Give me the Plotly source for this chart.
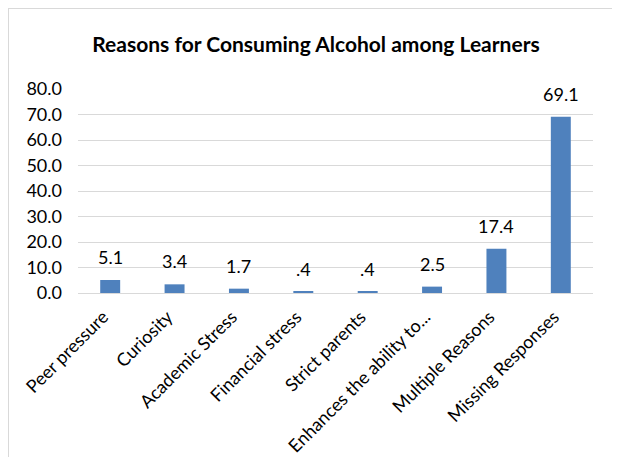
import plotly.graph_objects as go

categories = ["Peer pressure", "Curiosity", "Academic Stress", "Financial stress",
              "Strict parents", "Enhances the ability to...", "Multiple Reasons",
              "Missing Responses"]
values = [5.1, 3.4, 1.7, 0.4, 0.4, 2.5, 17.4, 69.1]
value_labels = ["5.1", "3.4", "1.7", ".4", ".4", "2.5", "17.4", "69.1"]
y_ticks = [0, 10, 20, 30, 40, 50, 60, 70, 80]
y_tick_labels = ["0.0", "10.0", "20.0", "30.0", "40.0", "50.0", "60.0", "70.0", "80.0"]
title = "Reasons for Consuming Alcohol among Learners"

FONT = "Lato"
OFF = 8  # page body margin
W, H = 620 - OFF, 457 - OFF
L, T = 78 - OFF, 89 - OFF
R = W - (593 - OFF)
B = H - (293 - OFF)
pw, ph = W - L - R, H - T - B

fig = go.Figure(go.Bar(
    x=categories, y=values, marker=dict(color="#4f81bd", line=dict(width=0)),
    width=0.31, hoverinfo="x+y"))

annotations = [dict(x=c, y=v, text=t, showarrow=False, yanchor="bottom",
                    yshift=10, font=dict(family=FONT, size=18, color="#000000"))
               for c, v, t in zip(categories, values, value_labels)]

def px_x(x):
    return (x - OFF - L) / pw

def px_y(y):
    return (H - B - (y - OFF)) / ph

fig.update_layout(
    width=W, height=H,
    margin=dict(l=L, r=R, t=T, b=B, autoexpand=False),
    paper_bgcolor="white", plot_bgcolor="white",
    showlegend=False,
    title=dict(text="<b>" + title + "</b>", x=(316 - OFF) / W, xref="container",
               xanchor="center", y=1 - (45 - OFF) / H, yref="container", yanchor="middle",
               font=dict(family=FONT, size=21, color="#000000")),
    xaxis=dict(tickangle=-45, tickfont=dict(family=FONT, size=18, color="#000000"),
               showgrid=False, showline=False, ticks="", zeroline=False,
               ticklabelstandoff=9, ticklabelshift=-7),
    yaxis=dict(range=[0, 80], tickvals=y_ticks, ticktext=y_tick_labels,
               tickfont=dict(family=FONT, size=18, color="#000000"),
               showgrid=True, gridcolor="#d9d9d9", gridwidth=1,
               zeroline=True, zerolinecolor="#d9d9d9", zerolinewidth=1,
               showline=False, ticks="", ticklen=0, ticklabelstandoff=15,
               automargin=False),
    annotations=annotations,
    shapes=[
        dict(type="line", xref="paper", yref="paper", x0=px_x(OFF), x1=px_x(OFF),
             y0=px_y(OFF), y1=px_y(457), line=dict(color="#d9d9d9", width=2)),
        dict(type="line", xref="paper", yref="paper", x0=px_x(OFF), x1=px_x(620),
             y0=px_y(OFF), y1=px_y(OFF), line=dict(color="#d9d9d9", width=2)),
    ],
)

fig.write_html("out.html")
